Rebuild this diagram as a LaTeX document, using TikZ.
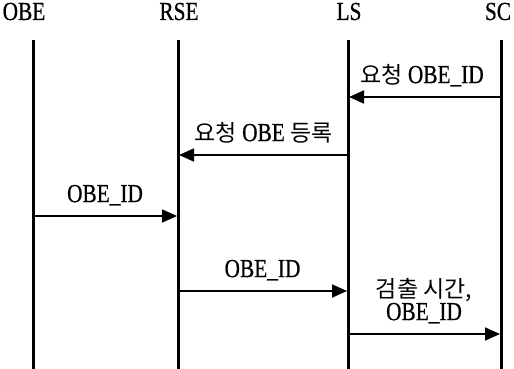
\documentclass[tikz,border=0pt]{standalone}
\usepackage{fontspec}
\setmainfont[FakeStretch=0.82, FakeBold=0.6]{Liberation Serif}
\newfontfamily\kr{Noto Sans CJK KR}
\usetikzlibrary{arrows.meta}
\tikzstyle{entity} = [font=\fontsize{26}{26}\selectfont, inner sep=0pt, anchor=base]
\tikzstyle{lifeline} = [line width=3pt]
\tikzstyle{msg} = [line width=1.8pt, -{Triangle[length=15pt,width=13pt]}]
\tikzstyle{lbl} = [font=\fontsize{26}{21}\selectfont, inner sep=0pt, anchor=south, text depth=0pt, yshift=13pt, align=center]
\newcommand{\krtext}[1]{{\kr\fontsize{23}{21}\selectfont #1}}

\begin{document}
\begin{tikzpicture}[x=1pt, y=-1pt]
      \useasboundingbox (0,0) rectangle (514,369);
      % entities
      \node (obe)[entity] at (24,20) {OBE};
      \node (rse)[entity] at (179,20) {RSE};
      \node (ls)[entity] at (349,20) {LS};
      \node (sc)[entity] at (498,20) {SC};
      % lifelines
      \coordinate (obe top) at (33,40);  \coordinate (obe bot) at (33,369);
      \coordinate (rse top) at (178,40); \coordinate (rse bot) at (178,369);
      \coordinate (ls top) at (348,40);  \coordinate (ls bot) at (348,369);
      \coordinate (sc top) at (501,40);  \coordinate (sc bot) at (501,369);
      \draw [lifeline](obe top)--(obe bot);
      \draw [lifeline](rse top)--(rse bot);
      \draw [lifeline](ls top)--(ls bot);
      \draw [lifeline](sc top)--(sc bot);
      % messages
      \coordinate (sc1) at (501,97);  \coordinate (ls1) at (349,97);
      \coordinate (ls2) at (348,155); \coordinate (rse2) at (179,155);
      \coordinate (obe3) at (33,216); \coordinate (rse3) at (177,216);
      \coordinate (rse4) at (178,291); \coordinate (ls4) at (347,291);
      \coordinate (ls5) at (348,334); \coordinate (sc5) at (500,334);
      \draw [msg](sc1)--(ls1) node[midway, lbl, xshift=-3pt] {\krtext{요청} OBE\_ID};
      \draw [msg](ls2)--(rse2) node[midway, lbl] {\krtext{요청} OBE \krtext{등록}};
      \draw [msg](obe3)--(rse3) node[midway, lbl] {OBE\_ID};
      \draw [msg](rse4)--(ls4) node[midway, lbl] {OBE\_ID};
      \draw [msg](ls5)--(sc5) node[midway, lbl] {\krtext{검출 시간,}\\OBE\_ID};
    \end{tikzpicture}
\end{document}
